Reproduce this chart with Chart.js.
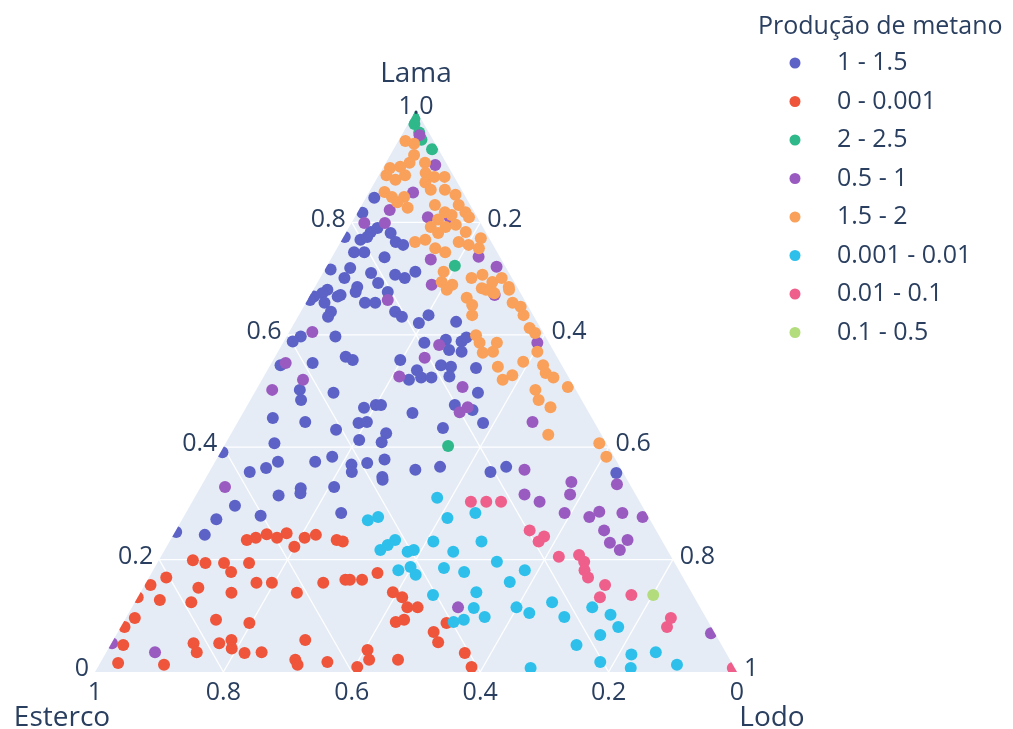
<!DOCTYPE html>
<html>
<head>
<meta charset="utf-8">
<script src="https://cdn.jsdelivr.net/npm/chart.js@4/dist/chart.umd.min.js"></script>
<style>
  html, body { margin: 0; padding: 0; background: #fff; }
  #wrap { width: 1013px; height: 729px; position: relative; }
</style>
</head>
<body>
<div id="wrap"><canvas id="ternario"></canvas></div>
<script>
// Pontos em coordenadas ternárias: [Lama, Lodo] (Esterco = 1 - Lama - Lodo)
const categorias = ["1 - 1.5", "0 - 0.001", "2 - 2.5", "0.5 - 1", "1.5 - 2", "0.001 - 0.01", "0.01 - 0.1", "0.1 - 0.5"];
const cores = ["#5c62c6", "#ee553b", "#2fb88a", "#9a5bc0", "#f9a05a", "#2ec0ea", "#ef5f8c", "#b3dc7c"];

const pontos_1_15 = [
  [0.844,0.013],[0.817,0.008],[0.783,0.038],[0.769,0.029],[0.790,0.045],[0.781,0.070],[0.765,0.086],[0.760,0.100],
  [0.738,0.082],[0.710,0.075],[0.747,0.030],[0.719,0.038],[0.701,0.038],[0.716,0.009],[0.680,0.022],[0.668,0.007],
  [0.707,0.114],[0.701,0.132],[0.712,0.143],[0.676,0.118],[0.692,0.095],[0.685,0.066],[0.671,0.047],[0.774,0.002],
  [0.774,0.037],[0.747,0.046],[0.662,0.004],[0.674,0.017],[0.668,0.044],[0.676,0.068],[0.657,0.029],[0.641,0.047],
  [0.632,0.047],[0.657,0.092],[0.657,0.108],[0.597,0.022],[0.588,0.014],[0.597,0.076],[0.561,0.110],[0.555,0.124],
  [0.546,0.016],[0.550,0.064],[0.502,0.068],[0.484,0.079],[0.497,0.123],[0.470,0.184],[0.475,0.200],[0.452,0.051],
  [0.445,0.105],[0.443,0.189],[0.445,0.201],[0.431,0.160],[0.413,0.205],[0.407,0.076],[0.391,0.003],[0.356,0.063],
  [0.363,0.085],[0.374,0.098],[0.374,0.156],[0.383,0.178],[0.369,0.215],[0.356,0.222],[0.372,0.238],[0.327,0.157],
  [0.329,0.208],[0.641,0.147],[0.632,0.162],[0.621,0.194],[0.635,0.202],[0.623,0.251],[0.586,0.220],[0.591,0.251],
  [0.573,0.265],[0.588,0.277],[0.595,0.281],[0.570,0.286],[0.555,0.198],[0.537,0.233],[0.520,0.229],[0.524,0.246],
  [0.524,0.262],[0.546,0.266],[0.543,0.283],[0.526,0.289],[0.541,0.323],[0.497,0.348],[0.475,0.323],[0.466,0.355],
  [0.443,0.383],[0.475,0.208],[0.461,0.264],[0.434,0.325],[0.425,0.241],[0.409,0.242],[0.378,0.262],[0.360,0.319],
  [0.365,0.355],[0.356,0.438],[0.365,0.458],[0.347,0.274],[0.354,0.635],[0.296,0.070],[0.272,0.053],[0.244,0.049],
  [0.249,0.002],[0.314,0.129],[0.318,0.161],[0.278,0.119],[0.283,0.242],[0.342,0.277]
];
const pontos_0_0001 = [
  [0.235,0.119],[0.239,0.131],[0.245,0.145],[0.239,0.164],[0.247,0.175],[0.223,0.199],[0.239,0.207],[0.199,0.053],
  [0.194,0.075],[0.194,0.104],[0.178,0.123],[0.194,0.143],[0.168,0.027],[0.155,0.009],[0.150,0.086],[0.124,0.088],
  [0.128,0.037],[0.133,0.0],[0.141,0.142],[0.159,0.172],[0.159,0.196],[0.141,0.244],[0.096,0.014],[0.080,0.006],
  [0.093,0.142],[0.087,0.197],[0.048,0.020],[0.016,0.028],[0.013,0.101],[0.051,0.128],[0.035,0.141],[0.051,0.168],
  [0.057,0.184],[0.042,0.192],[0.034,0.216],[0.035,0.242],[0.022,0.301],[0.013,0.309],[0.057,0.299],[0.244,0.222],
  [0.235,0.259],[0.232,0.270],[0.159,0.276],[0.164,0.308],[0.164,0.315],[0.164,0.334],[0.176,0.352],[0.142,0.393],
  [0.133,0.412],[0.115,0.429],[0.115,0.445],[0.089,0.424],[0.093,0.435],[0.071,0.492],[0.053,0.508],[0.087,0.504],
  [0.039,0.405],[0.022,0.416],[0.018,0.353],[0.009,0.404],[0.022,0.461],[0.034,0.559],[0.009,0.582]
];
const pontos_2_25 = [
  [1.0,0.0],[0.985,0.005],[0.975,0.01],[0.96,0.025],[0.947,0.035],[0.93,0.06],[0.723,0.199],[0.402,0.349]
];
const pontos_05_1 = [
  [0.955,0.028],[0.853,0.069],[0.822,0.048],[0.799,0.020],[0.799,0.052],[0.809,0.114],[0.902,0.079],[0.734,0.156],
  [0.739,0.228],[0.721,0.265],[0.689,0.180],[0.809,0.148],[0.662,0.125],[0.671,0.287],[0.582,0.245],[0.559,0.234],
  [0.526,0.211],[0.507,0.319],[0.462,0.337],[0.471,0.345],[0.445,0.459],[0.360,0.489],[0.338,0.573],[0.586,0.396],
  [0.605,0.036],[0.550,0.022],[0.520,0.064],[0.502,0.025],[0.329,0.038],[0.051,0.001],[0.035,0.076],[0.115,0.508],
  [0.316,0.511],[0.334,0.646],[0.316,0.582],[0.303,0.541],[0.283,0.590],[0.276,0.632],[0.285,0.643],[0.283,0.680],
  [0.276,0.715],[0.252,0.667],[0.230,0.687],[0.217,0.709],[0.235,0.712],[0.069,0.925]
];
const pontos_15_2 = [
  [0.945,0.011],[0.940,0.027],[0.920,0.037],[0.906,0.037],[0.899,0.026],[0.897,0.011],[0.884,0.012],[0.876,0.030],
  [0.884,0.041],[0.906,0.061],[0.888,0.071],[0.871,0.079],[0.881,0.088],[0.881,0.104],[0.858,0.094],[0.858,0.116],
  [0.849,0.137],[0.831,0.151],[0.818,0.168],[0.809,0.178],[0.831,0.114],[0.818,0.136],[0.813,0.149],[0.805,0.132],
  [0.792,0.127],[0.792,0.150],[0.796,0.164],[0.781,0.144],[0.765,0.116],[0.769,0.130],[0.754,0.153],[0.747,0.172],
  [0.765,0.184],[0.760,0.202],[0.783,0.186],[0.754,0.221],[0.772,0.215],[0.701,0.236],[0.707,0.250],[0.694,0.272],
  [0.701,0.283],[0.685,0.302],[0.683,0.261],[0.676,0.281],[0.712,0.187],[0.689,0.212],[0.694,0.193],[0.854,0.024],
  [0.845,0.040],[0.845,0.059],[0.826,0.074],[0.836,0.053],[0.680,0.208],[0.666,0.246],[0.653,0.261],[0.635,0.270],
  [0.680,0.269],[0.674,0.285],[0.657,0.322],[0.650,0.338],[0.635,0.350],[0.680,0.305],[0.599,0.294],[0.586,0.306],
  [0.568,0.320],[0.586,0.333],[0.570,0.335],[0.543,0.356],[0.520,0.375],[0.528,0.386],[0.552,0.391],[0.612,0.371],
  [0.603,0.384],[0.570,0.404],[0.546,0.425],[0.532,0.436],[0.524,0.452],[0.507,0.483],[0.502,0.435],[0.484,0.449],
  [0.471,0.474],[0.422,0.495],[0.407,0.582],[0.383,0.605]
];
const pontos_0001_001 = [
  [0.310,0.378],[0.274,0.412],[0.270,0.290],[0.276,0.303],[0.235,0.350],[0.226,0.343],[0.217,0.336],[0.214,0.380],
  [0.217,0.388],[0.232,0.411],[0.214,0.451],[0.232,0.486],[0.283,0.451],[0.196,0.528],[0.181,0.382],[0.187,0.398],
  [0.173,0.413],[0.185,0.451],[0.178,0.486],[0.181,0.579],[0.160,0.566],[0.137,0.458],[0.142,0.523],[0.114,0.533],
  [0.098,0.558],[0.093,0.528],[0.089,0.514],[0.115,0.599],[0.105,0.624],[0.007,0.675],[0.124,0.650],[0.098,0.682],
  [0.115,0.717],[0.102,0.752],[0.080,0.775],[0.066,0.754],[0.048,0.726],[0.018,0.778],[0.031,0.820],[0.007,0.831],
  [0.035,0.856],[0.013,0.900]
];
const pontos_001_01 = [
  [0.303,0.434],[0.303,0.458],[0.303,0.481],[0.252,0.551],[0.241,0.579],[0.232,0.575],[0.205,0.620],[0.208,0.650],
  [0.196,0.664],[0.181,0.672],[0.168,0.684],[0.155,0.717],[0.133,0.720],[0.137,0.767],[0.096,0.849],[0.080,0.851],
  [0.007,0.99]
];
const pontos_01_05 = [
  [0.137,0.801]
];
const series = [pontos_1_15, pontos_0_0001, pontos_2_25, pontos_05_1, pontos_15_2, pontos_0001_001, pontos_001_01, pontos_01_05];

// Eixos ternários
const lamaTicks = [0, 0.2, 0.4, 0.6, 0.8, 1];
const lamaTickText = ["0", "0.2", "0.4", "0.6", "0.8", "1.0"];
const estercoTicks = [1, 0.8, 0.6, 0.4, 0.2, 0];
const estercoTickText = ["1", "0.8", "0.6", "0.4", "0.2", "0"];
const lodoTicks = [0.2, 0.4, 0.6, 0.8, 1];
const lodoTickText = ["0.2", "0.4", "0.6", "0.8", "1"];
const gridVals = [0.2, 0.4, 0.6, 0.8];

const corTexto = "#2a3f5f";
const fonte = '"Open Sans", "DejaVu Sans", sans-serif';

// converte [lama, lodo] em x/y do plano (x = lodo + lama/2, y = lama)
function paraXY(p) {
  return { x: p[1] + p[0] / 2, y: p[0] };
}

// plugin: fundo do triângulo, grade, rótulos e recorte dos pontos
const ternarioPlugin = {
  id: "ternario",
  beforeDatasetsDraw(chart) {
    const ctx = chart.ctx;
    const xs = chart.scales.x, ys = chart.scales.y;
    const P = (lama, lodo) => [xs.getPixelForValue(lodo + lama / 2), ys.getPixelForValue(lama)];
    const A = P(1, 0), B = P(0, 0), C = P(0, 1);

    ctx.save();
    ctx.beginPath();
    ctx.moveTo(A[0], A[1]); ctx.lineTo(B[0], B[1]); ctx.lineTo(C[0], C[1]); ctx.closePath();
    ctx.fillStyle = "#e5ecf6";
    ctx.fill();

    // linhas de grade
    ctx.strokeStyle = "#ffffff";
    ctx.lineWidth = 1.3;
    gridVals.forEach((v) => {
      const linhas = [
        [P(v, 0), P(v, 1 - v)],          // lama constante
        [P(0, v), P(1 - v, v)],          // lodo constante
        [P(0, 1 - v), P(1 - v, 0)],      // esterco constante
      ];
      linhas.forEach((l) => {
        ctx.beginPath();
        ctx.moveTo(l[0][0], l[0][1]);
        ctx.lineTo(l[1][0], l[1][1]);
        ctx.stroke();
      });
    });
    ctx.restore();

    // recorte dos pontos ao triângulo
    ctx.save();
    ctx.beginPath();
    ctx.moveTo(A[0], A[1]); ctx.lineTo(B[0], B[1]); ctx.lineTo(C[0], C[1]); ctx.closePath();
    ctx.clip();
  },
  afterDatasetsDraw(chart) {
    const ctx = chart.ctx;
    ctx.restore();

    const xs = chart.scales.x, ys = chart.scales.y;
    const P = (lama, lodo) => [xs.getPixelForValue(lodo + lama / 2), ys.getPixelForValue(lama)];

    ctx.save();
    ctx.fillStyle = corTexto;
    ctx.font = "25px " + fonte;
    ctx.textBaseline = "middle";

    // Lama (lado esquerdo)
    lamaTicks.forEach((v, i) => {
      const p = P(v, 0);
      if (v === 1) {
        ctx.textAlign = "center";
        ctx.fillText(lamaTickText[i], p[0], p[1] - 3);
      } else {
        ctx.textAlign = "right";
        ctx.fillText(lamaTickText[i], p[0] - 6, p[1] - 3);
      }
    });
    // Lodo (lado direito)
    ctx.textAlign = "left";
    lodoTicks.forEach((v, i) => {
      const p = P(1 - v, v);
      ctx.fillText(lodoTickText[i], p[0] + 7, p[1] - 3);
    });
    // Esterco (base)
    ctx.textAlign = "center";
    estercoTicks.forEach((v, i) => {
      const p = P(0, 1 - v);
      ctx.fillText(estercoTickText[i], p[0], p[1] + 21);
    });

    // títulos dos eixos
    ctx.font = "28px " + fonte;
    const top = P(1, 0), esq = P(0, 0), dir = P(0, 1);
    ctx.fillText("Lama", top[0], top[1] - 36);
    ctx.fillText("Esterco", esq[0] - 33, esq[1] + 46);
    ctx.fillText("Lodo", dir[0] + 35, dir[1] + 46);

    // legenda
    ctx.textAlign = "left";
    ctx.font = "25px " + fonte;
    ctx.fillText("Produção de metano", 758, 27);
    chart.data.datasets.forEach((ds, i) => {
      const y = 63 + i * 38.5;
      ctx.beginPath();
      ctx.arc(795, y, 5.5, 0, Math.PI * 2);
      ctx.fillStyle = ds.backgroundColor;
      ctx.fill();
      ctx.fillStyle = corTexto;
      ctx.fillText(ds.label, 837, y);
    });
    ctx.restore();
  },
};

function desenhar() {
  const datasets = categorias.map((nome, i) => ({
    label: nome,
    data: series[i].map(paraXY),
    backgroundColor: cores[i],
    borderColor: cores[i],
    pointRadius: 6,
    pointBorderWidth: 0,
    pointHoverRadius: 6,
    order: 20 - i,
    clip: false,
  }));

  new Chart(document.getElementById("ternario"), {
    type: "scatter",
    data: { datasets },
    options: {
      responsive: true,
      maintainAspectRatio: false,
      animation: false,
      layout: { padding: { left: 95, right: 276, top: 110, bottom: 57 } },
      scales: {
        x: { type: "linear", min: 0, max: 1, display: false },
        y: { type: "linear", min: 0, max: 1, display: false },
      },
      plugins: {
        legend: { display: false },
        tooltip: { enabled: false },
      },
    },
    plugins: [ternarioPlugin],
  });
}

if (document.fonts && document.fonts.load) {
  Promise.all([
    document.fonts.load('25px "Open Sans"'),
    document.fonts.load('28px "Open Sans"'),
  ]).then(desenhar, desenhar);
} else {
  desenhar();
}
</script>
</body>
</html>
